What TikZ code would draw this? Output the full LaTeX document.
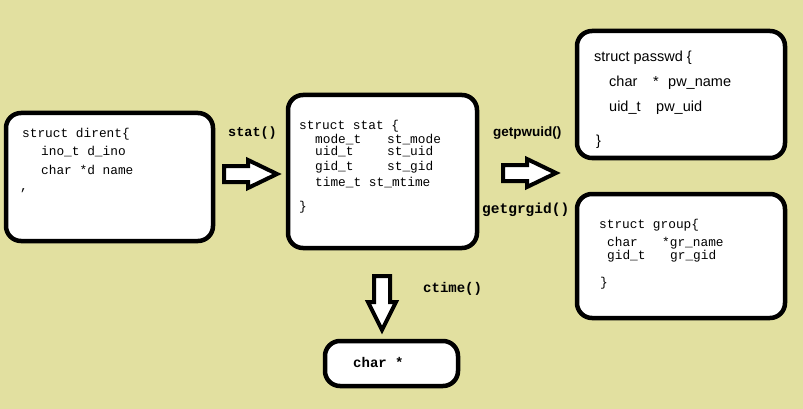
\documentclass[tikz,border=0pt]{standalone}
\usepackage{fontspec}
\setmainfont{Liberation Sans}
\setmonofont{Liberation Mono}
\definecolor{bgk}{RGB}{226,224,160}
\tikzset{
  box/.style={draw=black, line width=4.5pt, fill=white, rounded corners=15pt},
  blockarrow/.style={draw=black, line width=4pt, fill=white, line join=miter},
  code/.style={anchor=base west, inner sep=0pt, font=\ttfamily\fontsize{12.8}{14}\selectfont},
  sanscode/.style={anchor=base west, inner sep=0pt, font=\fontsize{14.5}{16}\selectfont},
  lbl/.style={anchor=base west, inner sep=0pt, font=\ttfamily\bfseries\fontsize{13.5}{15}\selectfont},
}
\begin{document}
\begin{tikzpicture}[x=1pt,y=-1pt]
\useasboundingbox (0,0) rectangle (803,409);
\fill[bgk] (0,0) rectangle (803,409);

% boxes
\draw[box] (6,113) rectangle (213,241);
\draw[box] (288,95) rectangle (477,248);
\draw[box] (577,31) rectangle (785,158);
\draw[box] (577,194) rectangle (785,318);
\draw[box] (325,341) rectangle (458,386);

% block arrows
\draw[blockarrow] (224,166) -- (248,166) -- (248,160) -- (277,174) -- (248,188) -- (248,182) -- (224,182) -- cycle;
\draw[blockarrow] (503,165) -- (527,165) -- (527,159) -- (556,173) -- (527,187) -- (527,181) -- (503,181) -- cycle;
\draw[blockarrow] (374,276) -- (390,276) -- (390,302) -- (396,302) -- (382,330) -- (368,302) -- (374,302) -- cycle;

% dirent
\node[code] (d1) at (22,138) {struct dirent\{};
\node[code] (d2) at (41,156) {ino\_t d\_ino};
\node[code] (d3) at (41,174) {char *d name};
\node[code] (d4) at (20,190) {,};

% stat
\node[code] (s1) at (299,130) {struct stat \{};
\node[code] (s2) at (315,143) {mode\_t};
\node[code] (s2b) at (387,143) {st\_mode};
\node[code] (s3) at (315,156) {uid\_t};
\node[code] (s3b) at (387,156) {st\_uid};
\node[code] (s4) at (315,171) {gid\_t};
\node[code] (s4b) at (387,171) {st\_gid};
\node[code] (s5) at (315,186) {time\_t st\_mtime};
\node[code] (s6) at (299,210) {\}};

% passwd
\node[sanscode] (p1) at (594,62) {struct passwd \{};
\node[sanscode] (p2) at (609,87) {char};
\node[sanscode] (p2b) at (653,87) {*};
\node[sanscode] (p2c) at (668,87) {pw\_name};
\node[sanscode] (p3) at (609,112) {uid\_t};
\node[sanscode] (p3b) at (656,112) {pw\_uid};
\node[sanscode] (p4) at (596,146) {\}};

% group
\node[code] (g1) at (599,228) {struct group\{};
\node[code] (g2) at (607,246) {char};
\node[code] (g2b) at (662,246) {*gr\_name};
\node[code] (g3) at (607,259) {gid\_t};
\node[code] (g3b) at (670,259) {gr\_gid};
\node[code] (g4) at (600,286) {\}};

% labels
\node[lbl] (l1) at (228,137) {stat()};
\node[sanscode, font=\bfseries\fontsize{13.5}{15}\selectfont] (l2) at (493,136) {getpwuid()};
\node[lbl, font=\ttfamily\bfseries\fontsize{14.5}{16}\selectfont] (l3) at (482,213) {getgrgid()};
\node[lbl, font=\ttfamily\bfseries\fontsize{14}{16}\selectfont] (l4) at (423,292) {ctime()};
\node[lbl, font=\ttfamily\bfseries\fontsize{14}{16}\selectfont] (l5) at (353,367) {char *};
\end{tikzpicture}
\end{document}
